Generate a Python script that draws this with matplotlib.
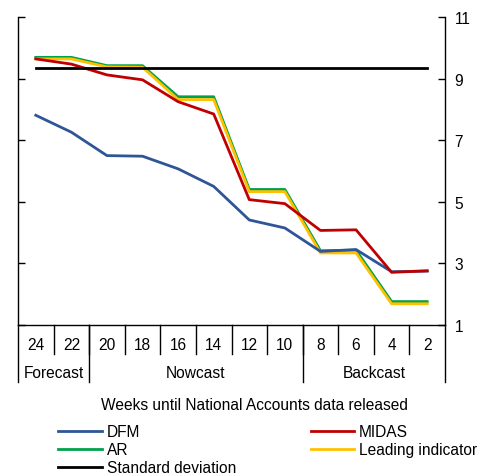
import numpy as np
import matplotlib.pyplot as plt
from matplotlib.lines import Line2D

plt.rcParams['font.family'] = ['Liberation Sans', 'DejaVu Sans']

weeks = ['24', '22', '20', '18', '16', '14', '12', '10', '8', '6', '4', '2']
groups = ['Forecast', 'Nowcast', 'Backcast']
group_sizes = [2, 6, 4]

dfm = [7.81, 7.26, 6.50, 6.48, 6.07, 5.50, 4.41, 4.15, 3.39, 3.45, 2.73, 2.75]
midas = [9.64, 9.47, 9.12, 8.96, 8.25, 7.85, 5.07, 4.94, 4.07, 4.09, 2.71, 2.76]
ar = [9.69, 9.69, 9.42, 9.42, 8.41, 8.41, 5.40, 5.40, 3.41, 3.43, 1.76, 1.76]
leading = [9.64, 9.64, 9.38, 9.37, 8.32, 8.32, 5.33, 5.33, 3.34, 3.34, 1.69, 1.69]
std_dev = 9.34

c_dfm = '#2F5597'
c_midas = '#C00000'
c_ar = '#00A14B'
c_lead = '#FFC000'

fs = 11.2
fig = plt.figure(figsize=(4.9, 4.77), dpi=100)
ax = fig.add_axes([18 / 490, 1 - 326 / 477, 427 / 490, 308 / 477])

x = np.arange(len(weeks))
lw = 2.0
ax.plot(x, ar, color=c_ar, lw=lw, zorder=2)
ax.plot(x, leading, color=c_lead, lw=lw, zorder=3)
ax.plot(x, dfm, color=c_dfm, lw=lw, zorder=4)
ax.plot(x, midas, color=c_midas, lw=lw, zorder=5)
ax.plot([x[0], x[-1]], [std_dev, std_dev], color='black', lw=lw, zorder=6)

ax.set_xlim(-0.5, len(weeks) - 0.5)
ax.set_ylim(1, 11)
ax.set_yticks(np.arange(1, 12, 2))
ax.yaxis.tick_right()
ax.tick_params(axis='y', which='both', left=True, right=True, direction='in',
               length=5, width=1, labelsize=fs, pad=7)
ax.set_xticks([])
ax.spines['top'].set_visible(False)
for s in ['left', 'right', 'bottom']:
    ax.spines[s].set_linewidth(1)

# category table under the axis
tr = ax.get_xaxis_transform()
h = 308.0
for i in range(1, len(weeks)):
    ax.plot([i - 0.5, i - 0.5], [0, -29 / h], transform=tr, color='black',
            lw=1, clip_on=False)
for i, w in enumerate(weeks):
    ax.text(i, -19 / h, w, transform=tr, ha='center', va='center', fontsize=fs)

edges = np.concatenate([[0], np.cumsum(group_sizes)]) - 0.5
for e in edges:
    ax.plot([e, e], [0, -57 / h], transform=tr, color='black', lw=1, clip_on=False)
for g, a, b in zip(groups, edges[:-1], edges[1:]):
    ax.text((a + b) / 2, -47 / h, g, transform=tr, ha='center', va='center',
            fontsize=fs)

fig.text(254 / 490, 1 - 406 / 477, 'Weeks until National Accounts data released',
         ha='center', va='center', fontsize=fs)

handles = [Line2D([], [], color=c_dfm, lw=lw),
           Line2D([], [], color=c_ar, lw=lw),
           Line2D([], [], color='black', lw=lw),
           Line2D([], [], color=c_midas, lw=lw),
           Line2D([], [], color=c_lead, lw=lw)]
labels = ['DFM', 'AR', 'Standard deviation', 'MIDAS', 'Leading indicator']
fig.legend(handles, labels, ncol=2, loc='upper left',
           bbox_to_anchor=(58 / 490, 1 - 425 / 477), frameon=False,
           fontsize=fs, handlelength=2.8, handletextpad=0.32,
           labelspacing=0.2, columnspacing=4.8, borderpad=0, borderaxespad=0)

fig.savefig('out.png', dpi=100)
